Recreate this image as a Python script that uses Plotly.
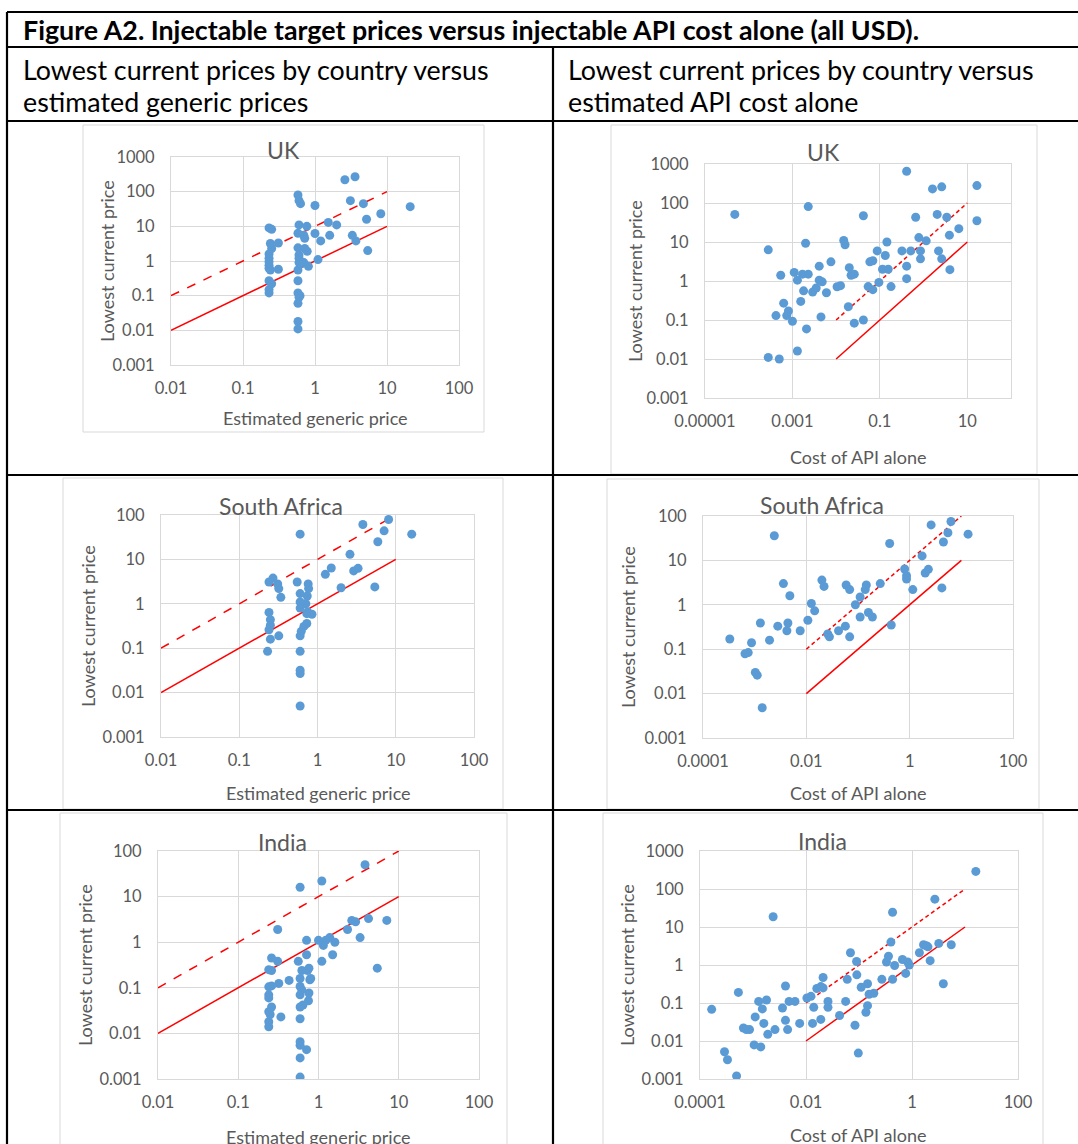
import plotly.graph_objects as go

W, H = 1078, 1144
FONT = "Lato"
GRAY = "#595959"
BLUE = "#5B9BD5"
RED = "#FF0000"

# ---------------- data ----------------
uk_gen_x = [0.23, 0.25, 0.24, 0.31, 0.25, 0.23, 0.23, 0.23, 0.23, 0.23, 0.24, 0.31, 0.23, 0.25, 0.23, 0.23,
            0.58, 0.60, 0.63, 0.60, 0.58, 0.58, 0.60, 0.60, 0.60, 0.65, 0.58, 0.58, 0.58, 0.62, 0.60, 0.58, 0.58, 0.58,
            0.70, 0.72, 0.77, 0.72, 0.78, 0.70, 0.81,
            1.0, 1.0, 1.1, 1.2, 1.53, 1.6, 2.0,
            2.6, 3.6, 3.1, 3.3, 3.7, 4.7, 5.2, 5.4, 8.2, 21]
uk_gen_y = [9, 8.2, 3.2, 3.3, 2.3, 1.6, 1.2, 0.95, 0.75, 0.62, 0.55, 0.58, 0.27, 0.22, 0.15, 0.12,
            80, 55, 45, 11, 6.3, 2.4, 1.5, 1.2, 0.9, 0.85, 0.55, 0.27, 0.12, 0.1, 0.09, 0.06, 0.018, 0.011,
            5.5, 4.5, 10, 2.3, 1.9, 0.9, 0.7,
            40, 6.2, 1.1, 3.8, 13, 5.5, 11,
            220, 270, 55, 5.5, 3.8, 45, 16, 2.0, 23, 37]

uk_api_x = [4.8e-5, 2.8e-4, 2.8e-4, 5.0e-4, 4.2e-4, 5.4e-4, 6.3e-4, 7.4e-4, 8.1e-4, 1.0e-3,
            1.1e-3, 1.3e-3, 1.3e-3, 1.55e-3, 1.7e-3, 1.8e-3, 2.0e-3, 2.1e-3, 2.3e-3, 2.3e-3,
            2.9e-3, 3.5e-3, 4.1e-3, 4.1e-3, 4.5e-3, 4.8e-3, 6.0e-3, 7.6e-3, 0.0105, 0.0126,
            0.0149, 0.016, 0.019, 0.020, 0.022, 0.026, 0.026, 0.042, 0.042, 0.054,
            0.059, 0.069, 0.069, 0.087, 0.095, 0.115, 0.133, 0.145, 0.155, 0.18,
            0.32, 0.41, 0.41, 0.41, 0.51, 0.66, 0.78, 0.85, 0.85, 1.15,
            1.6, 2.05, 2.2, 2.6, 2.6, 3.4, 3.9, 4.0, 6.4, 16.6, 16.6]
uk_api_y = [51, 6.3, 0.011, 0.010, 0.13, 1.4, 0.27, 0.13, 0.17, 0.093,
            1.66, 1.05, 0.016, 0.30, 1.5, 0.56, 9.3, 0.059, 81, 1.5,
            0.52, 0.66, 2.4, 1.05, 0.12, 0.95, 0.5, 3.1, 0.71, 0.76,
            11, 8.5, 0.22, 2.2, 1.4, 1.5, 0.083, 47, 0.1, 0.72,
            3.1, 3.3, 0.6, 5.9, 0.92, 2.0, 4.5, 10, 2.0, 0.72,
            5.9, 650, 2.4, 1.15, 5.9, 43, 13, 5.9, 3.7, 10.7,
            230, 51, 5.9, 260, 3.7, 43, 15, 1.95, 22, 280, 35]

sa_gen_x = [0.60, 3.8, 8.1, 7.1, 16, 5.9, 2.6, 1.5, 1.26, 2.9, 3.3, 2.0, 5.4,
            0.24, 0.27, 0.31, 0.32, 0.34, 0.24, 0.25, 0.25, 0.24, 0.25, 0.32, 0.23,
            0.55, 0.60, 0.60, 0.60, 0.71, 0.74, 0.76, 0.77, 0.73, 0.75, 0.85, 0.73, 0.67, 0.62,
            0.60, 0.60, 0.60, 0.60, 0.60]
sa_gen_y = [37, 61, 79, 44, 37, 25, 13, 6.4, 4.6, 5.5, 6.3, 2.3, 2.4,
            3.1, 3.8, 2.8, 2.2, 1.4, 0.64, 0.44, 0.33, 0.26, 0.16, 0.19, 0.085,
            3.1, 1.7, 1.1, 0.8, 1.0, 1.5, 2.8, 2.2, 0.6, 0.66, 0.58, 0.36, 0.31, 0.24,
            0.19, 0.085, 0.032, 0.027, 0.005]

sa_api_x = [3.3e-4, 6.5e-4, 7.5e-4, 8.7e-4, 1.03e-3, 1.12e-3, 1.29e-3, 1.4e-3, 1.94e-3, 2.4e-3,
            2.8e-3, 3.6e-3, 4.2e-3, 4.4e-3, 4.8e-3, 7.6e-3, 0.0107, 0.0125, 0.0145, 0.020,
            0.022, 0.026, 0.028, 0.042, 0.057, 0.059, 0.069, 0.069, 0.089, 0.11,
            0.11, 0.138, 0.145, 0.159, 0.19, 0.27, 0.41, 0.44, 0.80, 0.87,
            0.87, 1.15, 1.74, 2.0, 2.3, 2.6, 4.2, 4.5, 5.5, 6.3, 13.5]
sa_api_y = [0.17, 0.079, 0.084, 0.14, 0.030, 0.026, 0.39, 0.0048, 0.16, 36,
            0.33, 3.0, 0.26, 0.39, 1.6, 0.26, 0.45, 1.07, 0.73, 3.6,
            2.6, 0.22, 0.19, 0.26, 0.33, 2.8, 2.2, 0.19, 1.0, 1.5,
            0.53, 2.2, 2.8, 0.67, 0.53, 3.0, 24, 0.35, 6.4, 4.5,
            3.8, 2.2, 12.6, 5.2, 6.3, 63, 2.4, 26, 42, 75, 39]

in_gen_x = [3.8, 1.1, 0.59, 0.31, 2.6, 2.9, 4.2, 7.1, 2.3, 3.3, 5.4,
            1.38, 1.6, 1.23, 1.15, 1.0, 0.71, 1.5, 1.1, 0.71, 0.56,
            0.62, 0.76, 0.73, 0.59, 0.78, 0.80, 0.59, 0.62, 0.59, 0.76,
            0.75, 0.64, 0.59, 0.59, 0.59, 0.59, 0.71, 0.59, 0.59,
            0.43, 0.32, 0.34, 0.26, 0.31, 0.24, 0.26, 0.26, 0.24, 0.24,
            0.24, 0.26, 0.24, 0.25, 0.24, 0.24]
in_gen_y = [50, 22, 16, 1.9, 3.0, 2.8, 3.3, 3.0, 1.9, 1.26, 0.27,
            1.26, 1.0, 1.1, 0.85, 1.1, 1.1, 0.53, 0.38, 0.53, 0.38,
            0.24, 0.27, 0.24, 0.16, 0.15, 0.16, 0.107, 0.09, 0.07, 0.077,
            0.052, 0.042, 0.038, 0.021, 0.0066, 0.0055, 0.0044, 0.0029, 0.0011,
            0.145, 0.125, 0.023, 0.45, 0.38, 0.25, 0.24, 0.11, 0.105, 0.07,
            0.06, 0.038, 0.030, 0.026, 0.018, 0.014]

in_api_x = [1.66e-4, 2.9e-4, 3.3e-4, 4.9e-4, 5.3e-4, 6.6e-4, 7.5e-4, 8.6e-4, 1.05e-3, 1.1e-3,
            1.28e-3, 1.4e-3, 1.5e-3, 1.6e-3, 1.8e-3, 1.9e-3, 2.4e-3, 2.6e-3, 3.6e-3, 4.1e-3,
            4.1e-3, 4.5e-3, 4.8e-3, 6.2e-3, 7.6e-3, 0.0104, 0.0124, 0.0133, 0.014, 0.016,
            0.019, 0.019, 0.021, 0.021, 0.026, 0.026, 0.043, 0.056, 0.060, 0.069,
            0.084, 0.090, 0.091, 0.097, 0.11, 0.135, 0.145, 0.145, 0.155, 0.19,
            0.27, 0.33, 0.36, 0.40, 0.43, 0.43, 0.47, 0.66, 0.76, 0.83,
            0.89, 1.38, 1.65, 1.86, 2.0, 2.2, 2.7, 3.2, 3.9, 5.5, 16]
in_api_y = [0.068, 0.0052, 0.0032, 0.0012, 0.19, 0.022, 0.020, 0.020, 0.0079, 0.043,
            0.11, 0.007, 0.07, 0.029, 0.12, 0.015, 18.6, 0.020, 0.074, 0.28,
            0.035, 0.020, 0.11, 0.11, 0.029, 0.135, 0.15, 0.029, 0.077, 0.24,
            0.037, 0.27, 0.47, 0.25, 0.11, 0.077, 0.047, 0.11, 0.42, 2.1,
            0.026, 1.24, 0.55, 0.0048, 0.26, 0.057, 0.32, 0.085, 0.17, 0.18,
            0.42, 1.2, 1.7, 4.0, 24.5, 0.42, 0.97, 1.4, 0.6, 1.2,
            1.0, 2.1, 3.4, 3.2, 3.0, 1.3, 54, 3.7, 0.32, 3.4, 290]

# reference lines (parity and 10x parity)
line_x = [0.01, 10]
parity_y = [0.01, 10]
tenfold_y = [0.1, 100]

# tick labels
gen_ticks = [0.01, 0.1, 1, 10, 100]
gen_ticktext = ["0.01", "0.1", "1", "10", "100"]
uk_api_ticks = [0.00001, 0.001, 0.1, 10]
uk_api_ticktext = ["0.00001", "0.001", "0.1", "10"]
api_ticks = [0.0001, 0.01, 1, 100]
api_ticktext = ["0.0001", "0.01", "1", "100"]
y_ticks_1000 = [0.001, 0.01, 0.1, 1, 10, 100, 1000]
y_ticktext_1000 = ["0.001", "0.01", "0.1", "1", "10", "100", "1000"]
y_ticks_100 = [0.001, 0.01, 0.1, 1, 10, 100]
y_ticktext_100 = ["0.001", "0.01", "0.1", "1", "10", "100"]

title_text = "Figure A2. Injectable target prices versus injectable API cost alone (all USD)."
head_left = ["Lowest current prices by country versus", "estimated generic prices"]
head_right = ["Lowest current prices by country versus", "estimated API cost alone"]

X_GEN = "Estimated generic price"
X_API = "Cost of API alone"
Y_TITLE = "Lowest current price"

# ---------------- layout helpers ----------------
def px(x):
    return x / W

def py(y):
    return 1 - y / H

panels = [
    dict(x=uk_gen_x, y=uk_gen_y, xt=gen_ticks, xtt=gen_ticktext, xr=[-2, 2], yt=y_ticks_1000, ytt=y_ticktext_1000, yr=[-3, 3],
         plot=(171, 459, 157, 365), box=(83, 484, 125, 432), title="UK", tpos=(283, 150), xtitle=X_GEN, xtpos=(315, 418), ytpos=(107, 261), dash="dash"),
    dict(x=uk_api_x, y=uk_api_y, xt=uk_api_ticks, xtt=uk_api_ticktext, xr=[-5, 2], yt=y_ticks_1000, ytt=y_ticktext_1000, yr=[-3, 3],
         plot=(705, 1011, 164, 398), box=(611, 1037, 125, 474), title="UK", tpos=(823, 152), xtitle=X_API, xtpos=(858, 457), ytpos=(635, 281), dash="4px,3px"),
    dict(x=sa_gen_x, y=sa_gen_y, xt=gen_ticks, xtt=gen_ticktext, xr=[-2, 2], yt=y_ticks_100, ytt=y_ticktext_100, yr=[-3, 2],
         plot=(161, 474, 515, 737), box=(63, 503, 478, 809), title="South Africa", tpos=(281, 506), xtitle=X_GEN, xtpos=(318, 793), ytpos=(88, 626), dash="dash"),
    dict(x=sa_api_x, y=sa_api_y, xt=api_ticks, xtt=api_ticktext, xr=[-4, 2], yt=y_ticks_100, ytt=y_ticktext_100, yr=[-3, 2],
         plot=(703, 1013, 516, 738), box=(607, 1039, 479, 809), title="South Africa", tpos=(822, 505), xtitle=X_API, xtpos=(858, 793), ytpos=(628, 627), dash="4px,3px"),
    dict(x=in_gen_x, y=in_gen_y, xt=gen_ticks, xtt=gen_ticktext, xr=[-2, 2], yt=y_ticks_100, ytt=y_ticktext_100, yr=[-3, 2],
         plot=(158, 479, 851, 1079), box=(60, 507, 813, 1160), title="India", tpos=(282, 842), xtitle=X_GEN, xtpos=(318, 1137), ytpos=(85, 965), dash="dash"),
    dict(x=in_api_x, y=in_api_y, xt=api_ticks, xtt=api_ticktext, xr=[-4, 2], yt=y_ticks_1000, ytt=y_ticktext_1000, yr=[-3, 3],
         plot=(700, 1018, 851, 1079), box=(603, 1043, 813, 1160), title="India", tpos=(822, 841), xtitle=X_API, xtpos=(858, 1135), ytpos=(627, 965), dash="4px,3px"),
]

fig = go.Figure()
shapes = []
annotations = []
layout_axes = {}

tickfont = dict(family=FONT, size=16.5, color=GRAY)

for i, p in enumerate(panels, start=1):
    xa = "x" if i == 1 else f"x{i}"
    ya = "y" if i == 1 else f"y{i}"
    l, r, t, b = p["plot"]
    fig.add_trace(go.Scatter(x=line_x, y=tenfold_y, mode="lines", xaxis=xa, yaxis=ya,
                             line=dict(color=RED, width=1.5, dash=p["dash"]), hoverinfo="skip", showlegend=False))
    fig.add_trace(go.Scatter(x=line_x, y=parity_y, mode="lines", xaxis=xa, yaxis=ya,
                             line=dict(color=RED, width=1.5), hoverinfo="skip", showlegend=False))
    fig.add_trace(go.Scatter(x=p["x"], y=p["y"], mode="markers", xaxis=xa, yaxis=ya,
                             marker=dict(color=BLUE, size=9, line=dict(width=0)), showlegend=False))
    xkey = "xaxis" if i == 1 else f"xaxis{i}"
    ykey = "yaxis" if i == 1 else f"yaxis{i}"
    layout_axes[xkey] = dict(type="log", range=p["xr"], domain=[px(l), px(r)], anchor=ya,
                             tickvals=p["xt"], ticktext=p["xtt"], tickfont=tickfont, ticks="",
                             ticklabelstandoff=8, automargin=False,
                             showgrid=True, gridcolor="#D9D9D9", gridwidth=1,
                             showline=True, mirror=True, linecolor="#D9D9D9", linewidth=1, zeroline=False)
    layout_axes[ykey] = dict(type="log", range=p["yr"], domain=[py(b), py(t)], anchor=xa,
                             tickvals=p["yt"], ticktext=p["ytt"], tickfont=tickfont, ticks="",
                             ticklabelstandoff=12, automargin=False,
                             showgrid=True, gridcolor="#D9D9D9", gridwidth=1,
                             showline=True, mirror=True, linecolor="#D9D9D9", linewidth=1, zeroline=False)
    bl, br, bt, bb = p["box"]
    shapes.append(dict(type="rect", xref="paper", yref="paper", x0=px(bl), x1=px(br), y0=py(bb), y1=py(bt),
                       line=dict(color="#D9D9D9", width=1), fillcolor="rgba(0,0,0,0)", layer="below"))
    annotations.append(dict(text=p["title"], x=px(p["tpos"][0]), y=py(p["tpos"][1]), xref="paper", yref="paper",
                            showarrow=False, xanchor="center", yanchor="middle",
                            font=dict(family=FONT, size=23, color=GRAY)))
    annotations.append(dict(text=p["xtitle"], x=px(p["xtpos"][0]), y=py(p["xtpos"][1]), xref="paper", yref="paper",
                            showarrow=False, xanchor="center", yanchor="middle",
                            font=dict(family=FONT, size=18, color=GRAY)))
    annotations.append(dict(text=Y_TITLE, x=px(p["ytpos"][0]), y=py(p["ytpos"][1]), xref="paper", yref="paper",
                            showarrow=False, xanchor="center", yanchor="middle", textangle=-90,
                            font=dict(family=FONT, size=18, color=GRAY)))

# table lines
LW = 2.2
for yy in [12, 47, 121, 475, 810]:
    shapes.append(dict(type="line", xref="paper", yref="paper", x0=px(7), x1=1.0, y0=py(yy), y1=py(yy),
                       line=dict(color="black", width=LW)))
shapes.append(dict(type="line", xref="paper", yref="paper", x0=px(7), x1=px(7), y0=py(12), y1=0,
                   line=dict(color="black", width=LW)))
shapes.append(dict(type="line", xref="paper", yref="paper", x0=px(553), x1=px(553), y0=py(47), y1=0,
                   line=dict(color="black", width=LW)))

# header texts
annotations.append(dict(text="<b>" + title_text + "</b>", x=px(21), y=py(30), xref="paper", yref="paper",
                        showarrow=False, xanchor="left", yanchor="middle",
                        font=dict(family=FONT, size=26.8, color="black")))
for j, line in enumerate(head_left):
    annotations.append(dict(text=line, x=px(21), y=py(70 + 32 * j), xref="paper", yref="paper",
                            showarrow=False, xanchor="left", yanchor="middle",
                            font=dict(family=FONT, size=26.8, color="black")))
for j, line in enumerate(head_right):
    annotations.append(dict(text=line, x=px(566), y=py(70 + 32 * j), xref="paper", yref="paper",
                            showarrow=False, xanchor="left", yanchor="middle",
                            font=dict(family=FONT, size=26.8, color="black")))

fig.update_layout(width=W, height=H, autosize=False, margin=dict(l=0, r=0, t=0, b=0, pad=0),
                  paper_bgcolor="white", plot_bgcolor="white", showlegend=False,
                  shapes=shapes, annotations=annotations, **layout_axes)

fig.write_html("out.html", config={"responsive": False, "displayModeBar": False},
               post_script="document.body.style.margin='0';document.body.style.padding='0';"
                           "document.documentElement.style.overflow='hidden';document.body.style.overflow='hidden';")
